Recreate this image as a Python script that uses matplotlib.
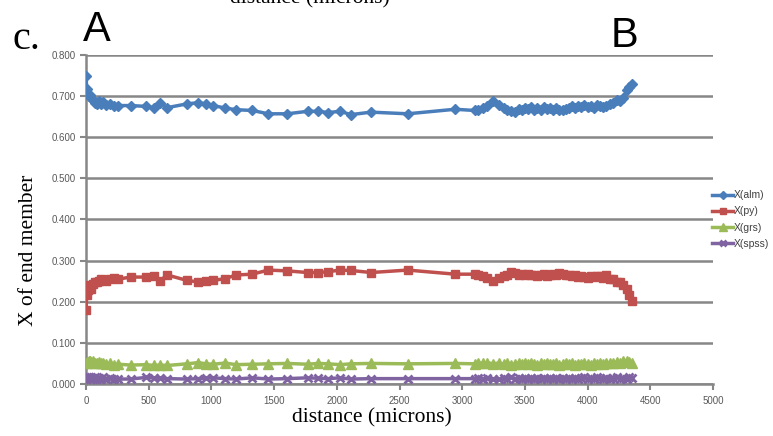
import matplotlib
matplotlib.use("Agg")
import matplotlib.pyplot as plt
from matplotlib.ticker import FormatStrFormatter

# distance along the traverse (microns), shared by all four end members
dist = [0, 5, 12, 20, 30, 42, 55, 70, 85, 100,
        118, 136, 160, 190, 225, 257, 356, 480, 542, 590,
        648, 803, 896, 957, 1015, 1108, 1196, 1326, 1454, 1605,
        1767, 1852, 1932, 2025, 2113, 2273, 2565, 2943, 3102, 3129,
        3165, 3200, 3248, 3290, 3330, 3360, 3390, 3421, 3450, 3475,
        3500, 3525, 3550, 3575, 3600, 3625, 3650, 3675, 3700, 3725,
        3750, 3775, 3800, 3825, 3850, 3875, 3900, 3925, 3950, 3975,
        4000, 4025, 4050, 4075, 4100, 4123, 4150, 4175, 4200, 4232,
        4260, 4285, 4311, 4330, 4351]

x_alm = [0.750, 0.718, 0.706, 0.700, 0.703, 0.695, 0.690, 0.684, 0.680, 0.688,
         0.681, 0.685, 0.678, 0.680, 0.676, 0.677, 0.677, 0.675, 0.671, 0.684,
         0.672, 0.681, 0.684, 0.681, 0.677, 0.671, 0.667, 0.665, 0.657, 0.657,
         0.663, 0.663, 0.660, 0.663, 0.655, 0.661, 0.657, 0.668, 0.665, 0.665,
         0.672, 0.676, 0.688, 0.678, 0.670, 0.666, 0.664, 0.661, 0.668, 0.665,
         0.671, 0.668, 0.673, 0.666, 0.671, 0.667, 0.674, 0.668, 0.670, 0.667,
         0.672, 0.665, 0.666, 0.669, 0.672, 0.675, 0.670, 0.676, 0.673, 0.678,
         0.674, 0.676, 0.672, 0.678, 0.675, 0.673, 0.676, 0.680, 0.684, 0.690,
         0.688, 0.695, 0.714, 0.722, 0.730]

x_py = [0.180, 0.216, 0.228, 0.235, 0.240, 0.232, 0.243, 0.247, 0.247, 0.250,
        0.255, 0.252, 0.250, 0.256, 0.258, 0.255, 0.260, 0.260, 0.263, 0.251,
        0.265, 0.252, 0.248, 0.250, 0.252, 0.256, 0.265, 0.267, 0.277, 0.275,
        0.271, 0.271, 0.273, 0.277, 0.276, 0.271, 0.277, 0.267, 0.267, 0.265,
        0.262, 0.258, 0.250, 0.258, 0.262, 0.266, 0.272, 0.270, 0.264, 0.268,
        0.265, 0.268, 0.264, 0.266, 0.262, 0.265, 0.267, 0.263, 0.266, 0.268,
        0.265, 0.270, 0.267, 0.264, 0.266, 0.262, 0.264, 0.260, 0.263, 0.261,
        0.258, 0.262, 0.259, 0.262, 0.263, 0.258, 0.265, 0.256, 0.255, 0.248,
        0.247, 0.240, 0.230, 0.216, 0.202]

x_grs = [0.050, 0.052, 0.054, 0.055, 0.056, 0.053, 0.055, 0.052, 0.050, 0.053,
         0.051, 0.052, 0.048, 0.050, 0.046, 0.048, 0.046, 0.047, 0.045, 0.046,
         0.045, 0.049, 0.052, 0.049, 0.048, 0.051, 0.047, 0.048, 0.049, 0.050,
         0.048, 0.050, 0.049, 0.047, 0.049, 0.050, 0.049, 0.050, 0.049, 0.051,
         0.050, 0.052, 0.049, 0.051, 0.048, 0.050, 0.047, 0.049, 0.051, 0.048,
         0.050, 0.048, 0.051, 0.049, 0.047, 0.050, 0.048, 0.051, 0.049, 0.048,
         0.050, 0.047, 0.049, 0.051, 0.048, 0.050, 0.047, 0.049, 0.048, 0.050,
         0.049, 0.047, 0.050, 0.048, 0.051, 0.049, 0.050, 0.052, 0.051, 0.053,
         0.052, 0.055, 0.057, 0.054, 0.052]

x_spss = [0.012, 0.018, 0.014, 0.017, 0.011, 0.016, 0.013, 0.018, 0.012, 0.015,
          0.013, 0.016, 0.012, 0.015, 0.013, 0.012, 0.012, 0.016, 0.015, 0.014,
          0.013, 0.012, 0.013, 0.014, 0.015, 0.013, 0.012, 0.015, 0.012, 0.013,
          0.015, 0.014, 0.013, 0.015, 0.012, 0.013, 0.013, 0.013, 0.013, 0.015,
          0.012, 0.014, 0.013, 0.011, 0.014, 0.013, 0.017, 0.012, 0.014, 0.013,
          0.015, 0.012, 0.014, 0.013, 0.015, 0.012, 0.014, 0.013, 0.015, 0.012,
          0.014, 0.013, 0.015, 0.012, 0.014, 0.013, 0.015, 0.012, 0.014, 0.016,
          0.013, 0.015, 0.012, 0.017, 0.014, 0.012, 0.015, 0.013, 0.014, 0.016,
          0.013, 0.015, 0.012, 0.016, 0.014]

series = [
    ("X(alm)", x_alm, "#4A7EBB", "D", 5.0),
    ("X(py)", x_py, "#C0504D", "s", 6.0),
    ("X(grs)", x_grs, "#9BBB59", "^", 6.5),
    ("X(spss)", x_spss, "#8064A2", "x", 6.0),
]

grid_grey = "#878787"
tick_grey = "#595959"

fig = plt.figure(figsize=(7.73, 4.36), dpi=100, facecolor="white")
ax = fig.add_axes([0.1113, 0.1193, 0.8111, 0.7546])

handles = []
for name, vals, colour, mk, ms in series:
    h, = ax.plot(dist, vals, color=colour, lw=2.5, marker=mk, ms=ms,
                 mec=colour, mfc=colour, mew=2.0 if mk == "x" else 1.0,
                 label=name, zorder=3)
    handles.append(h)

ax.set_xlim(0, 5000)
ax.set_ylim(0, 0.8)
ax.set_xticks(range(0, 5001, 500))
ax.set_yticks([i / 10 for i in range(9)])
ax.yaxis.set_major_formatter(FormatStrFormatter("%.3f"))

ax.grid(axis="y", color=grid_grey, lw=1.8, zorder=1)
ax.set_axisbelow(True)
for side in ("top", "right"):
    ax.spines[side].set_visible(False)
for side in ("left", "bottom"):
    ax.spines[side].set_color(grid_grey)
    ax.spines[side].set_linewidth(1.8)

ax.tick_params(axis="both", colors=grid_grey, width=1.5, length=4,
               labelcolor=tick_grey, labelsize=7)
ax.tick_params(axis="x", pad=5)
for lab in ax.get_xticklabels() + ax.get_yticklabels():
    lab.set_fontfamily("Liberation Sans")

# axis titles sit off-centre, so they are placed on the figure directly
fig.text(0.481, 0.032, "distance (microns)", family="Liberation Serif",
         fontsize=15.5, ha="center", va="baseline")
fig.text(0.037, 0.425, "X of end member", family="Liberation Serif",
         fontsize=15.5, ha="center", va="center", rotation=90)

leg = fig.legend(handles=handles, loc="upper left",
                 bbox_to_anchor=(708 / 773, 1 - 186 / 436), frameon=False,
                 borderaxespad=0, borderpad=0.4,
                 prop={"family": "Liberation Sans", "size": 7.5},
                 handlelength=2.0, handletextpad=0.1, labelspacing=0.6,
                 markerscale=0.8)
for t in leg.get_texts():
    t.set_color("#404040")

# panel annotations above the plot
fig.text(0.016, 0.888, "c.", family="Liberation Serif", fontsize=29,
         va="baseline")
fig.text(0.107, 0.905, "A", family="Liberation Sans", fontsize=30,
         va="baseline")
fig.text(0.790, 0.893, "B", family="Liberation Sans", fontsize=30,
         va="baseline")
fig.text(0.401, 0.991, "distance (microns)", family="Liberation Serif",
         fontsize=15.5, ha="center", va="baseline")

fig.savefig("out.png", dpi=100, facecolor="white")
